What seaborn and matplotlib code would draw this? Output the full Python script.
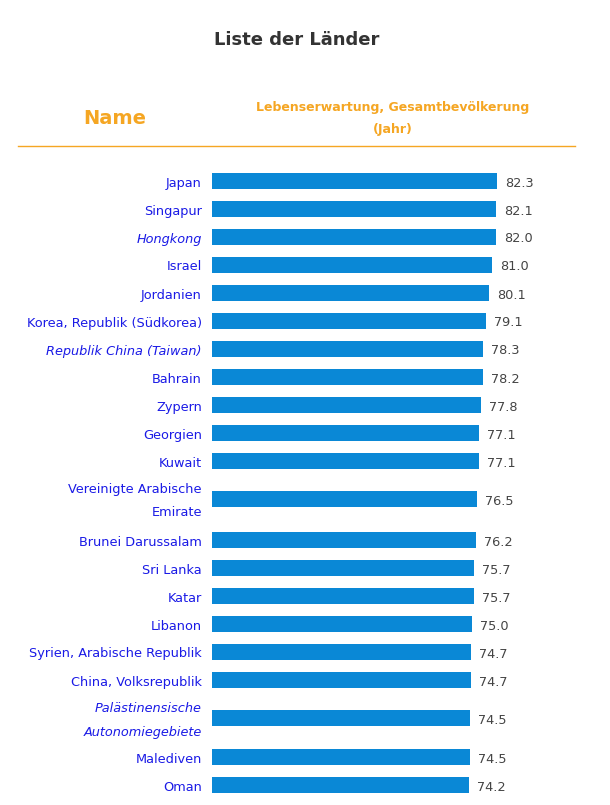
import pandas as pd
import numpy as np
import matplotlib.pyplot as plt
import seaborn as sns

# ---------------------------
# Datos de la tabla
# ---------------------------
data = pd.DataFrame({
    'Land': ['Japan', 'Singapur', 'Hongkong', 'Israel', 'Jordanien', 'Korea, Republik (Südkorea)',
             'Republik China (Taiwan)', 'Bahrain', 'Zypern', 'Georgien', 'Kuwait',
             'Vereinigte Arabische\nEmirate', 'Brunei Darussalam', 'Sri Lanka', 'Katar', 'Libanon',
             'Syrien, Arabische Republik', 'China, Volksrepublik', 'Palästinensische\nAutonomiegebiete',
             'Malediven', 'Oman', ''],
    'Wert': [82.3, 82.1, 82.0, 81.0, 80.1, 79.1, 78.3, 78.2, 77.8, 77.1, 77.1, 76.5, 76.2, 75.7,
             75.7, 75.0, 74.7, 74.7, 74.5, 74.5, 74.2, 74.1],
    'pos': [181, 209, 237, 265, 293, 321, 349, 377, 405, 433, 461, 499, 540, 568, 596, 624,
            652, 680, 718, 757, 785, 813],
    'kursiv': [False, False, True, False, False, False, True, False, False, False, False, False,
               False, False, False, False, False, False, True, False, False, False],
})

W, H = 610, 805
px_per_unit = 285 / 82.3  # ancho de barra en pixeles por año

# ---------------------------
# Figura
# ---------------------------
fig = plt.figure(figsize=(6.1, 8.05), dpi=100)
ax = fig.add_axes([212 / W, 0, (W - 212) / W, 1])
sns.barplot(x=data['Wert'], y=data['pos'], orient='h', native_scale=True,
            color='#0a88d6', saturation=1, width=16 / 28, ax=ax)
ax.set_xlim(0, (W - 212) / px_per_unit)
ax.set_ylim(H, 0)
ax.axis('off')

# Etiquetas de valores y nombres (la última fila queda cortada)
for _, row in data.iterrows():
    if not row['Land']:
        continue
    fy = 1 - (row['pos'] + 2) / H
    fig.text(202 / W, fy, row['Land'], ha='right', va='center', color='#1a1ae6',
             fontsize=9.3, style='italic' if row['kursiv'] else 'normal', linespacing=2.1)
    fig.text((212 + row['Wert'] * px_per_unit + 8) / W, fy, f"{row['Wert']:.1f}",
             ha='left', va='center', color='#444444', fontsize=9.3)

# Encabezado
fig.text(297 / W, 1 - 40 / H, 'Liste der Länder', ha='center', va='center',
         fontsize=13, fontweight='bold', color='#333333')
fig.text(115 / W, 1 - 118 / H, 'Name', ha='center', va='center',
         fontsize=14, fontweight='bold', color='#f5a623')
fig.text(393 / W, 1 - 107 / H, 'Lebenserwartung, Gesamtbevölkerung', ha='center', va='center',
         fontsize=9, fontweight='bold', color='#f5a623')
fig.text(393 / W, 1 - 129 / H, '(Jahr)', ha='center', va='center',
         fontsize=9, fontweight='bold', color='#f5a623')
fig.add_artist(plt.Line2D([18 / W, 575 / W], [1 - 146 / H, 1 - 146 / H], color='#f5a623', lw=1))

plt.savefig('out.png', dpi=100)
